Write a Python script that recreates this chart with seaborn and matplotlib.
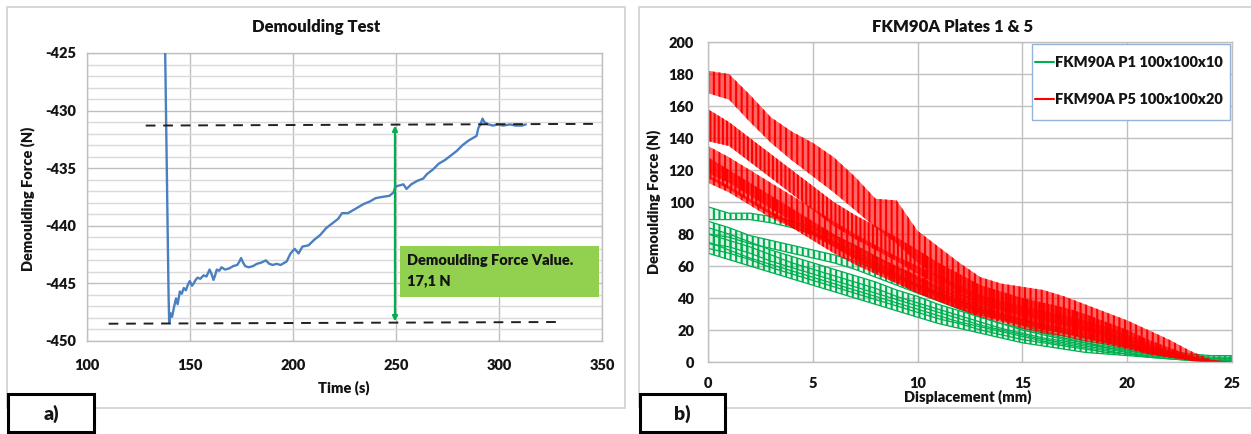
import matplotlib
matplotlib.use("Agg")
import matplotlib.pyplot as plt
import numpy as np
import pandas as pd
import seaborn as sns
from matplotlib.colors import to_rgba
from matplotlib.lines import Line2D
from matplotlib.patches import Rectangle
from matplotlib.ticker import MultipleLocator

# ---------------- panel a) demoulding force over time ----------------
time_s = [
    137.8, 139.2, 139.6, 139.9, 140.6, 141.3, 142.2, 143.2, 144.0,
    145.1, 146.0, 147.0, 148.0, 149.0, 149.9, 151.0, 151.8, 152.7, 153.7,
    155.0, 156.6, 158.0, 159.5, 160.5, 161.4, 162.2, 163.0, 164.2, 165.3,
    167.0, 169.0, 171.0, 172.9, 174.0, 174.8, 175.8, 176.8, 178.5, 180.6,
    182.5, 184.5, 186.8, 188.5, 190.2, 192.0, 194.0, 196.9, 198.8, 200.8,
    202.7, 204.6, 207.5, 210.4, 213.2, 216.1, 219.0, 221.9, 223.8, 226.7,
    229.6, 231.5, 234.4, 237.2, 240.1, 243.0, 246.8, 248.8, 249.7, 251.6,
    253.6, 255.1, 257.4, 260.3, 263.2, 265.1, 268.0, 270.8, 273.7, 276.6,
    279.5, 282.3, 285.2, 288.1, 289.1, 290.0, 291.0, 292.0, 292.9, 294.9,
    297.0, 299.6, 302.0, 305.4, 308.0, 311.1, 313.0,
]
force_n = [
    -423.0, -441.0, -446.0, -448.4, -447.6, -447.9, -447.1, -446.3, -446.8,
    -445.7, -445.9, -445.4, -445.6, -445.1, -444.8, -445.2, -445.0, -444.7, -444.5,
    -444.6, -444.3, -444.4, -443.8, -444.2, -444.7, -444.3, -443.8, -443.9, -443.6,
    -443.8, -443.7, -443.5, -443.4, -443.1, -442.8, -443.2, -443.5, -443.6, -443.5,
    -443.3, -443.2, -443.0, -443.3, -443.4, -443.3, -443.4, -443.1, -442.4, -442.0,
    -442.4, -441.8, -441.7, -441.2, -440.8, -440.2, -439.8, -439.4, -438.9, -438.9,
    -438.6, -438.4, -438.1, -437.9, -437.6, -437.5, -437.4, -437.1, -436.6, -436.5,
    -436.4, -436.8, -436.4, -436.1, -435.9, -435.5, -435.1, -434.6, -434.3, -433.9,
    -433.5, -433.0, -432.6, -432.3, -432.2, -431.5, -431.2, -430.7, -431.0, -431.2,
    -431.3, -431.2, -431.3, -431.2, -431.3, -431.3, -431.2,
]
peak_force = -448.4          # lowest point of the curve
force_value = 17.1           # demoulding force value (N)
upper_ref_time = [128.5, 349.0]
lower_ref_time = [110.5, 330.5]

# ---------------- panel b) force vs displacement, oscillation bands ----------------
disp_mm = list(range(26))

p1_upper = [
    [97, 93, 93, 91, 88, 84, 79, 73, 66, 59, 52, 46, 40, 35, 30, 26, 22, 19, 16, 13, 11, 9, 7, 5, 4, 4],
    [88, 84, 79, 76, 73, 70, 67, 63, 58, 53, 48, 43, 38, 33, 28, 24, 21, 18, 15, 12, 10, 8, 6, 4, 3, 3],
    [84, 80, 75, 70, 66, 62, 58, 54, 50, 45, 41, 36, 32, 28, 24, 21, 18, 15, 12, 10, 8, 6, 4, 3, 2, 2],
    [80, 76, 72, 67, 62, 58, 54, 50, 46, 41, 37, 33, 29, 25, 21, 18, 15, 13, 11, 9, 7, 5, 4, 2, 1, 1],
    [75, 70, 65, 61, 57, 53, 49, 45, 41, 37, 33, 29, 25, 22, 19, 16, 13, 11, 9, 7, 5, 4, 3, 2, 1, 1],
]
p1_lower = [
    [89, 89, 89, 87, 84, 80, 75, 69, 62, 55, 48, 42, 36, 31, 27, 23, 19, 16, 13, 11, 9, 7, 5, 3, 2, 2],
    [80, 78, 74, 71, 68, 65, 62, 58, 53, 48, 43, 38, 33, 28, 24, 20, 17, 14, 12, 9, 7, 5, 4, 2, 1, 1],
    [74, 72, 68, 63, 59, 55, 51, 47, 43, 39, 35, 31, 27, 23, 20, 17, 14, 12, 10, 8, 6, 4, 3, 2, 1, 1],
    [71, 68, 64, 59, 55, 51, 47, 43, 39, 35, 31, 27, 24, 20, 17, 14, 12, 10, 8, 6, 5, 3, 2, 1, 0, 0],
    [68, 64, 60, 56, 52, 48, 44, 40, 36, 32, 28, 24, 21, 18, 15, 12, 10, 8, 6, 5, 4, 3, 2, 1, 0, 0],
]
p5_upper = [
    [182, 180, 167, 153, 144, 137, 128, 116, 102, 101, 82, 72, 62, 53, 49, 47, 45, 41, 36, 31, 26, 20, 14, 7, 1.5, 0],
    [158, 150, 140, 130, 120, 110, 100, 92, 85, 78, 70, 62, 55, 48, 44, 40, 37, 34, 30, 25, 20, 14, 9, 4, 1, 0],
    [135, 128, 120, 112, 104, 96, 88, 80, 73, 66, 60, 54, 48, 42, 38, 35, 32, 29, 26, 22, 17, 12, 7, 3, 1, 0],
    [128, 120, 112, 104, 96, 88, 80, 73, 66, 60, 54, 48, 43, 38, 34, 31, 28, 25, 22, 18, 14, 10, 6, 3, 1, 0],
    [117, 110, 102, 94, 88, 82, 75, 68, 61, 55, 49, 44, 39, 34, 30, 27, 24, 21, 18, 15, 12, 8, 5, 2, 0, 0],
]
p5_lower = [
    [168, 164, 150, 137, 126, 116, 106, 95, 84, 74, 62, 52, 44, 38, 34, 31, 28, 25, 21, 17, 13, 9, 5, 2, 0, 0],
    [138, 135, 125, 115, 105, 95, 85, 77, 70, 63, 55, 48, 42, 36, 32, 29, 26, 23, 19, 15, 11, 7, 4, 1, 0, 0],
    [118, 112, 104, 96, 88, 80, 72, 65, 58, 52, 46, 40, 35, 31, 28, 25, 22, 20, 17, 14, 10, 6, 3, 1, 0, 0],
    [115, 108, 100, 92, 84, 76, 68, 61, 55, 49, 43, 38, 33, 29, 26, 23, 20, 18, 15, 12, 9, 5, 3, 1, 0, 0],
    [112, 106, 98, 90, 84, 79, 72, 64, 57, 50, 43, 38, 33, 28, 25, 21, 18, 16, 13, 11, 8, 5, 3, 1, 0, 0],
]
series_labels = ["FKM90A P1 100x100x10", "FKM90A P5 100x100x20"]

# ---------------- styling ----------------
sns.set_theme(style="white")
plt.rcParams["font.family"] = ["Lato", "DejaVu Sans"]
plt.rcParams["font.weight"] = "heavy"
plt.rcParams["axes.titleweight"] = "heavy"
plt.rcParams["axes.labelweight"] = "heavy"
plt.rcParams["axes.unicode_minus"] = False
plt.rcParams["hatch.linewidth"] = 1.5

BLUE = "#4a7fc1"
GREEN = "#00b050"
RED = "#ff0000"
GRID = "#bfbfbf"
MINOR = "#dadada"
FRAME = "#d3d3d3"
INK = "#141414"

W, H = 1251, 434
fig = plt.figure(figsize=(W / 100, H / 100), dpi=100)


def fx(px):
    return px / W


def fy(py):
    return 1 - py / H


ax_a = fig.add_axes([fx(87), fy(341), (602 - 87) / W, (341 - 53) / H])
ax_b = fig.add_axes([fx(708), fy(362), (1232 - 708) / W, (362 - 42) / H])

# panel frames and the a) / b) tags
for x0, x1 in [(7, 625), (639, 1262)]:
    fig.add_artist(Rectangle((fx(x0), fy(408)), (x1 - x0) / W, (408 - 7) / H,
                             transform=fig.transFigure, fill=False,
                             edgecolor=FRAME, linewidth=1.3, zorder=0))
for x0, x1, tag in [(8, 94, "a)"), (640, 725, "b)")]:
    fig.add_artist(Rectangle((fx(x0), fy(432)), (x1 - x0) / W, (432 - 394) / H,
                             transform=fig.transFigure, facecolor="white",
                             edgecolor="black", linewidth=2.2, zorder=5))
    fig.text(fx((x0 + x1) / 2), fy(414), tag, ha="center", va="center",
             fontsize=14, color=INK, zorder=6)


def style_axes(ax):
    for sp in ax.spines.values():
        sp.set_visible(True)
        sp.set_color(GRID)
        sp.set_linewidth(1.0)
    ax.set_axisbelow(True)
    ax.tick_params(labelsize=10.5, labelcolor=INK)


# ---- panel a ----
df_a = pd.DataFrame({"Time (s)": time_s, "Force": force_n})
sns.lineplot(data=df_a, x="Time (s)", y="Force", color=BLUE, linewidth=1.7,
             ax=ax_a, zorder=3)
ax_a.set_xlim(100, 350)
ax_a.set_ylim(-450, -425)
ax_a.xaxis.set_major_locator(MultipleLocator(50))
ax_a.yaxis.set_major_locator(MultipleLocator(5))
ax_a.yaxis.set_minor_locator(MultipleLocator(1))
ax_a.grid(True, which="minor", axis="y", color=MINOR, linewidth=1.0)
ax_a.grid(True, which="major", color=GRID, linewidth=1.0)
ax_a.tick_params(axis="both", which="major", length=4, width=1, color=GRID)
ax_a.tick_params(axis="y", which="minor", length=0)
ax_a.tick_params(axis="x", pad=9)
ax_a.tick_params(axis="y", pad=4)

upper_level = peak_force + force_value
ax_a.plot(upper_ref_time, [upper_level, upper_level + 0.15], color="#202020",
          linestyle=(0, (5, 4)), linewidth=1.4, zorder=4)
ax_a.plot(lower_ref_time, [peak_force - 0.1, peak_force + 0.05], color="#202020",
          linestyle=(0, (5, 4)), linewidth=1.4, zorder=4)
ax_a.annotate("", xy=(249.5, peak_force + 0.1), xytext=(249.5, upper_level),
              arrowprops=dict(arrowstyle="<|-|>", color=GREEN, lw=1.6,
                              mutation_scale=7, shrinkA=0, shrinkB=0), zorder=5)
ax_a.add_patch(Rectangle((252, -446.2), 96.6, 4.45, facecolor="#92d050",
                         edgecolor="none", zorder=4))
value_text = f"{force_value:.1f}".replace(".", ",")
ax_a.text(255.5, -443.9, f"Demoulding Force Value.\n{value_text} N",
          ha="left", va="center", fontsize=10.5,
          linespacing=1.6, color=INK, zorder=6)

ax_a.set_title("Demoulding Test", x=(316 - 87) / 515, y=(341 - 27) / 288,
               pad=0, va="center", fontsize=12, color=INK)
ax_a.set_xlabel("Time (s)", fontsize=10.5, color=INK)
ax_a.set_ylabel("Demoulding Force (N)", fontsize=10.5, color=INK)
ax_a.xaxis.set_label_coords((344 - 87) / 515, (341 - 388) / 288)
ax_a.xaxis.label.set_va("center")
ax_a.yaxis.set_label_coords((28 - 87) / 515, (341 - 199) / 288)
ax_a.yaxis.label.set_va("center")
style_axes(ax_a)

# ---- panel b ----
x_b = np.array(disp_mm, dtype=float)


def draw_band(ax, lo, hi, color, hatch, face_alpha, edge_lw):
    ax.fill_between(x_b, lo, hi, facecolor=to_rgba(color, face_alpha), edgecolor=color,
                    hatch=hatch, linewidth=0, zorder=2)
    if edge_lw:
        ax.plot(x_b, hi, color=color, linewidth=edge_lw, zorder=2)
        ax.plot(x_b, lo, color=color, linewidth=edge_lw, zorder=2)


for lo, hi in zip(p1_lower, p1_upper):
    draw_band(ax_b, lo, hi, GREEN, "|||", 0.08, 0.9)
for i, (lo, hi) in enumerate(zip(p5_lower, p5_upper)):
    draw_band(ax_b, lo, hi, RED, "|||" if i % 2 == 0 else "||||", 0.6, 0)

ax_b.set_xlim(0, 25)
ax_b.set_ylim(0, 200)
ax_b.xaxis.set_major_locator(MultipleLocator(5))
ax_b.yaxis.set_major_locator(MultipleLocator(20))
ax_b.grid(True, which="major", color=GRID, linewidth=1.0)
ax_b.tick_params(axis="both", length=0)
ax_b.tick_params(axis="x", pad=11)
ax_b.tick_params(axis="y", pad=10)

# legend: blue-edged box with two short line keys
ax_b.add_patch(Rectangle(((1032 - 708) / 524, (362 - 120) / 320), 198 / 524, 76 / 320,
                         transform=ax_b.transAxes, facecolor="white",
                         edgecolor="#95b3d7", linewidth=1.0, zorder=6))
handles = [Line2D([0], [0], color=GREEN, linewidth=1.5),
           Line2D([0], [0], color=RED, linewidth=1.5)]
leg = ax_b.legend(handles, series_labels, loc="center left",
                  bbox_to_anchor=((1035 - 708) / 524, (362 - 81) / 320),
                  frameon=False, prop=dict(weight="heavy", size=10.5),
                  handlelength=1.3, handletextpad=0.1, labelspacing=1.6,
                  borderpad=0, borderaxespad=0)
leg.set_zorder(7)
for t in leg.get_texts():
    t.set_color(INK)

ax_b.set_title("FKM90A Plates 1 & 5", x=(953 - 708) / 524, y=(362 - 27) / 320,
               pad=0, va="center", fontsize=12, color=INK)
ax_b.set_xlabel("Displacement (mm)", fontsize=10.5, color=INK)
ax_b.set_ylabel("Demoulding Force (N)", fontsize=10.5, color=INK)
ax_b.xaxis.set_label_coords((968 - 708) / 524, (362 - 397) / 320)
ax_b.xaxis.label.set_va("center")
ax_b.yaxis.set_label_coords((654 - 708) / 524, (362 - 202) / 320)
ax_b.yaxis.label.set_va("center")
style_axes(ax_b)

fig.savefig("out.png", dpi=100)
